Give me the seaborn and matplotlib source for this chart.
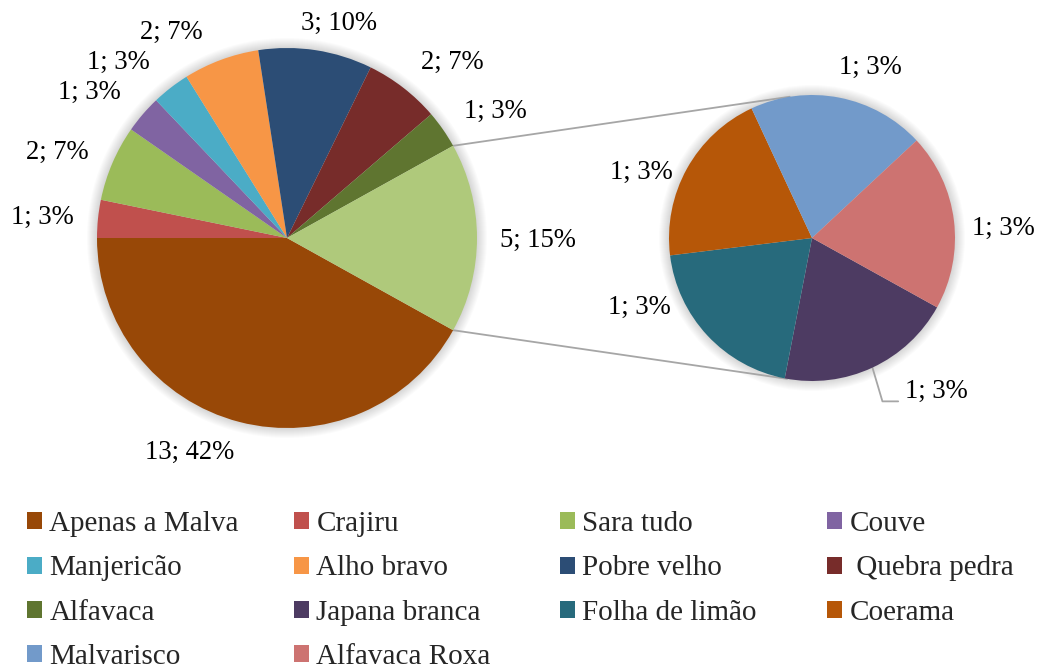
import numpy as np
import matplotlib
matplotlib.use('Agg')
import matplotlib.pyplot as plt
from matplotlib.patches import Circle, Patch
import seaborn as sns

# ── DATA ────────────────────────────────────────────────────────────────────
main_names = ['Apenas a Malva', 'Crajiru', 'Sara tudo', 'Couve', 'Manjericão',
              'Alho bravo', 'Pobre velho', ' Quebra pedra', 'Alfavaca', 'Outros']
main_values = [13, 1, 2, 1, 1, 2, 3, 2, 1, 5]
main_pcts = [42, 3, 7, 3, 3, 7, 10, 7, 3, 15]

sec_names = ['Japana branca', 'Folha de limão', 'Coerama', 'Malvarisco', 'Alfavaca Roxa']
sec_values = [1, 1, 1, 1, 1]
sec_pcts = [3, 3, 3, 3, 3]

main_colors = ['#984807', '#C0504D', '#9BBB59', '#8064A2', '#4BACC6',
               '#F79646', '#2C4D75', '#772C2A', '#5F7530', '#AFC97B']
sec_colors = ['#4D3B62', '#276A7C', '#B65708', '#729ACA', '#CD7371']

# ── LAYOUT (pixels, y measured from bottom) ─────────────────────────────────
W, H = 1041, 671
C_MAIN, R_MAIN = (287, H - 238), 190
C_SEC, R_SEC = (812, H - 238), 143
# label nudges: (angle offset in deg, distance as fraction of radius)
main_nudge = [(-9.8, 1.24), (1.1, 1.29), (2.9, 1.29), (4.3, 1.29), (6.1, 1.28),
              (9.0, 1.24), (-4.9, 1.16), (-5.5, 1.27), (-3.6, 1.28), (-0.5, 1.32)]
sec_nudge = [(14, 1.38), (-21, 1.30), (8, 1.28), (-8, 1.26), (-4, 1.34)]

sns.set_theme(style='white')
plt.rcParams['font.family'] = 'serif'
plt.rcParams['font.serif'] = ['Liberation Serif', 'DejaVu Serif']

fig = plt.figure(figsize=(W / 100, H / 100), dpi=100)
fig.patch.set_facecolor('white')
ax = fig.add_axes([0, 0, 1, 1])


def glow(center, radius):
    # soft grey halo like Excel's shadow
    for k in range(1, 11):
        ax.add_patch(Circle(center, radius + k, color='black', alpha=0.016,
                            lw=0, zorder=0))


glow(C_MAIN, R_MAIN)
glow(C_SEC, R_SEC)

other_share = main_values[-1] / sum(main_values) * 360
wedges_main, _ = ax.pie(main_values, colors=sns.color_palette(main_colors),
                        center=C_MAIN, radius=R_MAIN, counterclock=False,
                        startangle=-other_share / 2, frame=True,
                        wedgeprops=dict(linewidth=0, zorder=2))
wedges_sec, _ = ax.pie(sec_values, colors=sns.color_palette(sec_colors),
                       center=C_SEC, radius=R_SEC, counterclock=False,
                       startangle=-29, frame=True,
                       wedgeprops=dict(linewidth=0, zorder=2))

LABEL_FS = 19.2


def put_labels(wedges, values, pcts, nudges, center, radius):
    pos = []
    for w, v, p, (da, d) in zip(wedges, values, pcts, nudges):
        mid = np.deg2rad((w.theta1 + w.theta2) / 2 + da)
        x = center[0] + d * radius * np.cos(mid)
        y = center[1] + d * radius * np.sin(mid)
        ax.text(x, y, f'{v}; {p}%', ha='center', va='center',
                fontsize=LABEL_FS, color='black', zorder=5)
        pos.append((x, y))
    return pos


put_labels(wedges_main, main_values, main_pcts, main_nudge, C_MAIN, R_MAIN)
sec_pos = put_labels(wedges_sec, sec_values, sec_pcts, sec_nudge, C_SEC, R_SEC)

# connector lines between the "other" slice and the secondary pie
o = wedges_main[-1]
for ang_main, ang_sec in [(o.theta2, 99), (o.theta1, -100)]:
    a1, a2 = np.deg2rad(ang_main), np.deg2rad(ang_sec)
    ax.plot([C_MAIN[0] + R_MAIN * np.cos(a1), C_SEC[0] + R_SEC * np.cos(a2)],
            [C_MAIN[1] + R_MAIN * np.sin(a1), C_SEC[1] + R_SEC * np.sin(a2)],
            color='#A6A6A6', lw=1.3, zorder=1)

# leader line for the Japana branca label
w0 = wedges_sec[0]
m0 = np.deg2rad((w0.theta1 + w0.theta2) / 2)
px, py = C_SEC[0] + R_SEC * np.cos(m0), C_SEC[1] + R_SEC * np.sin(m0)
lx, ly = sec_pos[0]
ax.plot([px, px + 10, lx - 38], [py, ly - 10, ly - 10],
        color='#A6A6A6', lw=1.3, zorder=1)

ax.set_xlim(0, W)
ax.set_ylim(0, H)
ax.set_aspect('auto')
ax.axis('off')

# ── LEGEND (row-major, equal column widths) ─────────────────────────────────
leg_names = main_names[:-1] + sec_names
leg_colors = main_colors[:-1] + sec_colors
handles = [Patch(facecolor=c, edgecolor='none') for c in leg_colors]
col_x = [27, 294, 560, 827]
for c in range(4):
    fig.legend(handles[c::4], leg_names[c::4], loc='upper left',
               bbox_to_anchor=(col_x[c] / W, 1 - 511 / H), frameon=False,
               fontsize=21, handlelength=0.52, handleheight=0.52,
               handletextpad=0.25, labelspacing=0.63, borderpad=0,
               borderaxespad=0)

fig.savefig('out.png', dpi=100, facecolor='white')
